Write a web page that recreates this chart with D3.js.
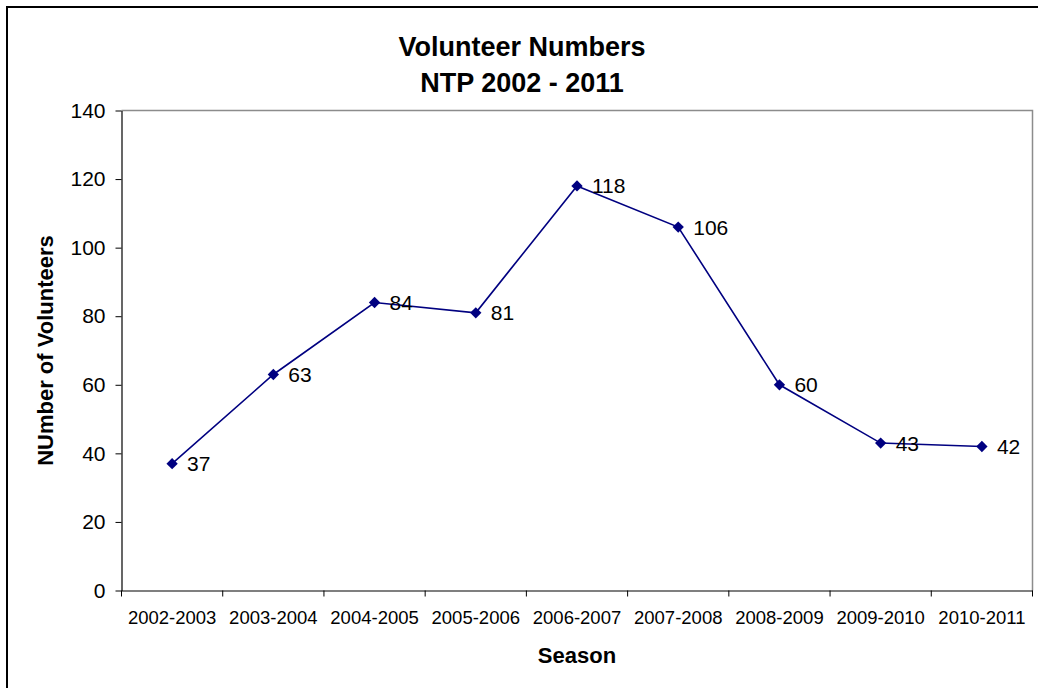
<!DOCTYPE html>
<html>
<head>
<meta charset="utf-8">
<script src="https://cdn.jsdelivr.net/npm/d3@7"></script>
<style>
  html, body { margin: 0; padding: 0; background: #fff; }
  svg { display: block; font-family: Arial, "Liberation Sans", sans-serif; }
</style>
</head>
<body>
<svg id="chart" width="1038" height="688"></svg>
<script>
// Season labels along the x axis
const seasons = ["2002-2003", "2003-2004", "2004-2005", "2005-2006", "2006-2007",
                 "2007-2008", "2008-2009", "2009-2010", "2010-2011"];
// Volunteer counts per season
const volunteers = [37, 63, 84, 81, 118, 106, 60, 43, 42];
// Y axis ticks
const yTicks = [0, 20, 40, 60, 80, 100, 120, 140];
const titleLines = ["Volunteer Numbers", "NTP 2002 - 2011"];

const FONT = "Arial, 'Liberation Sans', sans-serif";
const svg = d3.select("#chart");
const plot = { left: 121.5, top: 110.5, right: 1032.5, bottom: 590.5 };

// Outer chart frame
svg.append("rect")
  .attr("x", 7).attr("y", 7).attr("width", 1040).attr("height", 700)
  .attr("fill", "#fff").attr("stroke", "#000").attr("stroke-width", 2);

const x = d3.scaleBand().domain(seasons).range([plot.left, plot.right]);
const y = d3.scaleLinear().domain([0, 140]).range([plot.bottom, plot.top]);

// Plot area border (top and right in gray)
svg.append("path")
  .attr("d", `M${plot.left},${plot.top}H${plot.right}V${plot.bottom}`)
  .attr("fill", "none").attr("stroke", "#8c8c8c").attr("stroke-width", 1.5);

// Y axis
const yAxis = svg.append("g")
  .attr("transform", `translate(${plot.left},0)`)
  .call(d3.axisLeft(y).tickValues(yTicks).tickSize(6).tickPadding(10).tickSizeOuter(0));
yAxis.attr("font-size", null).attr("font-family", null);
yAxis.select(".domain").attr("stroke", "#000").attr("stroke-width", 1.2);
yAxis.selectAll(".tick line").attr("stroke", "#000");
yAxis.selectAll(".tick text").attr("font-size", 21).attr("fill", "#000")
  .attr("font-family", FONT);

// X axis with ticks between categories
const xAxis = svg.append("g")
  .attr("transform", `translate(0,${plot.bottom})`)
  .call(d3.axisBottom(x).tickSize(0).tickPadding(20).tickSizeOuter(0));
xAxis.attr("font-size", null).attr("font-family", null);
xAxis.select(".domain").attr("stroke", "#000").attr("stroke-width", 1.2);
xAxis.selectAll(".tick text").attr("font-size", 18.5).attr("fill", "#000")
  .attr("font-family", FONT);
const boundaries = seasons.map(s => x(s)).concat([x.range()[1]]);
xAxis.selectAll(".bound").data(boundaries).join("line")
  .attr("class", "bound")
  .attr("x1", d => d).attr("x2", d => d)
  .attr("y1", 0).attr("y2", 6)
  .attr("stroke", "#000");

// Data line
const line = d3.line()
  .x((d, i) => x(seasons[i]) + x.bandwidth() / 2)
  .y(d => y(d));
svg.append("path")
  .datum(volunteers)
  .attr("d", line)
  .attr("fill", "none").attr("stroke", "#000080").attr("stroke-width", 1.6);

// Diamond markers
svg.selectAll(".marker").data(volunteers).join("path")
  .attr("class", "marker")
  .attr("d", d3.symbol().type(d3.symbolSquare).size(64))
  .attr("transform", (d, i) =>
    `translate(${x(seasons[i]) + x.bandwidth() / 2},${y(d)}) rotate(45)`)
  .attr("fill", "#000080");

// Value labels
svg.selectAll(".val").data(volunteers).join("text")
  .attr("class", "val")
  .attr("x", (d, i) => x(seasons[i]) + x.bandwidth() / 2 + 15)
  .attr("y", d => y(d) + 7.5)
  .attr("font-size", 21).attr("fill", "#000")
  .text(d => d);

// Title
svg.append("text")
  .attr("text-anchor", "middle")
  .attr("font-size", 27).attr("font-weight", "bold")
  .selectAll("tspan").data(titleLines).join("tspan")
  .attr("x", 522).attr("y", (d, i) => 56 + i * 36)
  .text(d => d);

// Axis titles
svg.append("text")
  .attr("x", (plot.left + plot.right) / 2).attr("y", 663)
  .attr("text-anchor", "middle").attr("font-size", 22).attr("font-weight", "bold")
  .text("Season");
svg.append("text")
  .attr("transform", `translate(53,${(plot.top + plot.bottom) / 2}) rotate(-90)`)
  .attr("text-anchor", "middle").attr("font-size", 22).attr("font-weight", "bold")
  .text("NUmber of Volunteers");
</script>
</body>
</html>
